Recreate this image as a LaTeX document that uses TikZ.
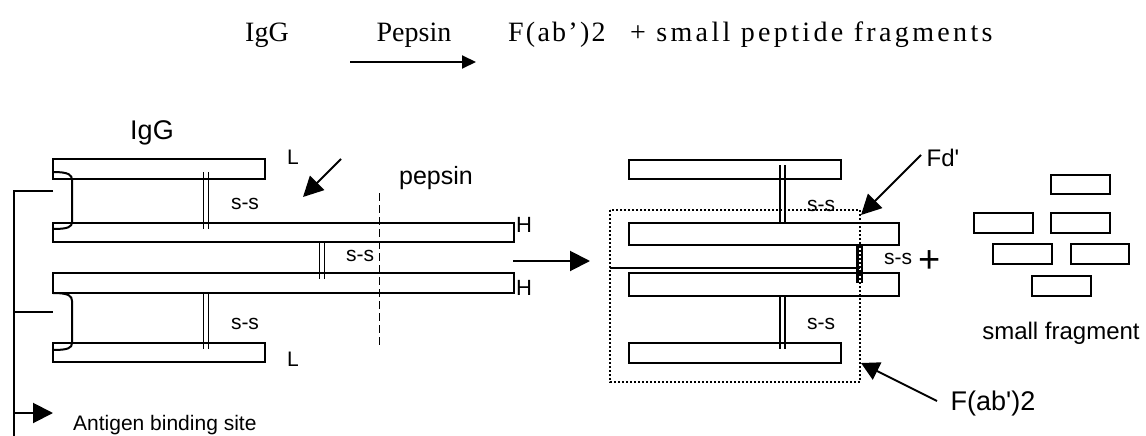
\documentclass[tikz,border=0pt]{standalone}
\usepackage{fontspec}
\setmainfont{Liberation Serif}
\setsansfont{Liberation Sans}
\usetikzlibrary{arrows.meta}
\begin{document}
\begin{tikzpicture}[x=1pt,y=-1pt,
  chainbox/.style={draw=black, line width=2pt},
  lnk/.style={draw=black, line width=2pt},
  ssline/.style={draw=black, line width=1.7pt},
  sslab/.style={font=\sffamily\fontsize{21}{21}\selectfont, inner sep=0pt},
  lab/.style={font=\sffamily\fontsize{#1}{#1}\selectfont, inner sep=0pt},
  ttl/.style={font=\rmfamily\fontsize{#1}{#1}\selectfont, inner sep=0pt},
  bigarrow/.style={draw=black, line width=2pt, -{Triangle[length=20pt,width=20pt]}},
  cutline/.style={draw=black, line width=1.7pt, dash pattern=on 8pt off 4pt},
  dotbox/.style={draw=black, line width=2pt, dash pattern=on 2pt off 2pt}]
\useasboundingbox (0,0) rectangle (1146,436);
% ---------- title equation ----------
\node[ttl=28, anchor=base] (tIgG) at (267,42) {IgG};
\node[ttl=28, anchor=base] (tPep) at (414,42) {Pepsin};
\coordinate (ta1) at (350,62);
\coordinate (ta2) at (476,62);
\draw[line width=2pt, -{Triangle[length=14pt,width=13pt]}] (ta1) -- (ta2);
\node[ttl=28, anchor=base west] (tFab) at (508,42) {\addfontfeature{LetterSpace=8}F(ab’)2};
\node[ttl=28, anchor=base west] (tSmall) at (630,42) {\addfontfeature{LetterSpace=12}+ small peptide fragments};
% ---------- left IgG ----------
\node[lab=27] (igg) at (152,133) {IgG};
\draw[chainbox] (53,159) rectangle (265,179);
\draw[chainbox] (53,223) rectangle (514,242);
\draw[chainbox] (53,273) rectangle (514,293);
\draw[chainbox] (53,343) rectangle (265,362);
% hinge curves
\draw[lnk] (53,172) .. controls (69,172) and (72,175) .. (72,180) -- (72,222) .. controls (72,227) and (68,229) .. (53,229);
\draw[lnk] (53,293) .. controls (69,293) and (72,296) .. (72,301) -- (72,343) .. controls (72,348) and (68,350) .. (53,350);
% disulfide bars
\draw[ssline] (203.5,172) -- (203.5,229) (208.5,172) -- (208.5,229);
\draw[ssline] (319.5,242) -- (319.5,279) (324.5,242) -- (324.5,279);
\draw[ssline] (203.5,293) -- (203.5,349) (208.5,293) -- (208.5,349);
\node[sslab] (ss1) at (245,204) {s-s};
\node[sslab] (ss2) at (360,256) {s-s};
\node[sslab] (ss3) at (245,324) {s-s};
\node[lab=21] (L1) at (293,157) {L};
\node[lab=21] (L2) at (293,359) {L};
\node[lab=22, anchor=west] (H1) at (516,225) {H};
\node[lab=22, anchor=west] (H2) at (516,288) {H};
% pepsin cut
\node[lab=25] (pep) at (436,178) {pepsin};
\draw[cutline] (379.5,193) -- (379.5,348);
\coordinate (pa1) at (341,159);
\coordinate (pa2) at (303,197);
\draw[bigarrow] (pa1) -- (pa2);
% antigen binding site bracket
\coordinate (b0) at (14,191);
\coordinate (b1) at (53,191);
\coordinate (b2) at (14,312);
\coordinate (b3) at (53,312);
\coordinate (b4) at (14,413);
\coordinate (b5) at (53,413);
\coordinate (b6) at (14,437);
\draw[lnk] (b1) -- (b0) -- (b6);
\draw[lnk] (b2) -- (b3);
\draw[bigarrow] (b4) -- (b5);
\node[lab=21, anchor=west] (abs) at (73,425) {Antigen binding site};
% ---------- reaction arrow ----------
\coordinate (ma1) at (513,261);
\coordinate (ma2) at (590,261);
\draw[bigarrow] (ma1) -- (ma2);
% ---------- F(ab')2 ----------
\draw[chainbox] (629,160) rectangle (841,179);
\draw[chainbox] (629,223) rectangle (899,245);
\draw[chainbox] (629,273) rectangle (899,296);
\draw[chainbox] (629,343) rectangle (841,363);
\draw[ssline] (780,165) -- (780,222) (785,165) -- (785,222);
\draw[ssline] (780,296) -- (780,349) (785,296) -- (785,349);
\draw[line width=2.2pt] (857.5,245) -- (857.5,283) (862,245) -- (862,283);
\draw[line width=2.2pt] (610,268) -- (860,268);
\draw[dotbox] (610,210) rectangle (860,382);
\node[sslab] (ss4) at (821,206) {s-s};
\node[sslab] (ss5) at (898,259) {s-s};
\node[sslab] (ss6) at (821,324) {s-s};
\node[font=\sffamily\fontsize{38}{38}\selectfont, inner sep=0pt] (plus) at (930,262) {+};
% Fd' label
\node[lab=24] (fd) at (943,158) {Fd\textquotesingle};
\coordinate (fa1) at (921,155);
\coordinate (fa2) at (861,215);
\draw[bigarrow] (fa1) -- (fa2);
% F(ab')2 label
\node[lab=27] (fab) at (993,404) {F(ab\textquotesingle)2};
\coordinate (fb1) at (937,401);
\coordinate (fb2) at (861,363);
\draw[draw=black, line width=2pt, -{Triangle[length=18pt,width=19pt]}] (fb1) -- (fb2);
% ---------- small fragments ----------
\draw[chainbox] (1051,175) rectangle (1110,194);
\draw[chainbox] (974,213) rectangle (1033,233);
\draw[chainbox] (1051,213) rectangle (1110,233);
\draw[chainbox] (993,244) rectangle (1052,264);
\draw[chainbox] (1071,244) rectangle (1129,264);
\draw[chainbox] (1032,276) rectangle (1091,296);
\node[lab=24] (sf) at (1061,333) {small fragment};
\end{tikzpicture}
\end{document}
